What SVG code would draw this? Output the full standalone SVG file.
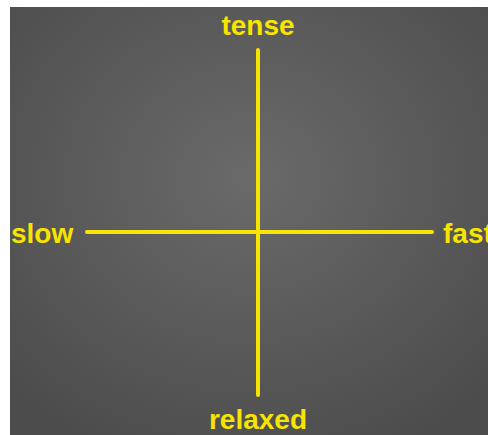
<svg xmlns="http://www.w3.org/2000/svg" width="488" height="435" viewBox="0 0 488 435">
<defs>
<radialGradient id="bg" cx="0.5" cy="0.4" r="0.7">
<stop offset="0" stop-color="#6a6a6a"/>
<stop offset="1" stop-color="#4c4c4c"/>
</radialGradient>
<style>
.lbl{font-family:"Liberation Sans",Arial,sans-serif;font-weight:bold;font-size:28px;fill:#f7e400}
.ax{stroke:#f7e400;stroke-width:4;stroke-linecap:round;fill:none}
</style>
</defs>
<rect x="0" y="0" width="488" height="435" fill="#ffffff"/>
<rect x="10" y="7" width="478" height="428" fill="url(#bg)"/>
<g id="connectors">
<line class="ax" x1="258" y1="50" x2="258" y2="395"/>
<line class="ax" x1="87" y1="232" x2="432" y2="232"/>
</g>
<g id="tense"><text class="lbl" x="258" y="35" text-anchor="middle">tense</text></g>
<g id="slow"><text class="lbl" x="11" y="243">slow</text></g>
<g id="fast"><text class="lbl" x="443" y="243">fast</text></g>
<g id="relaxed"><text class="lbl" x="258" y="429" text-anchor="middle">relaxed</text></g>
</svg>
